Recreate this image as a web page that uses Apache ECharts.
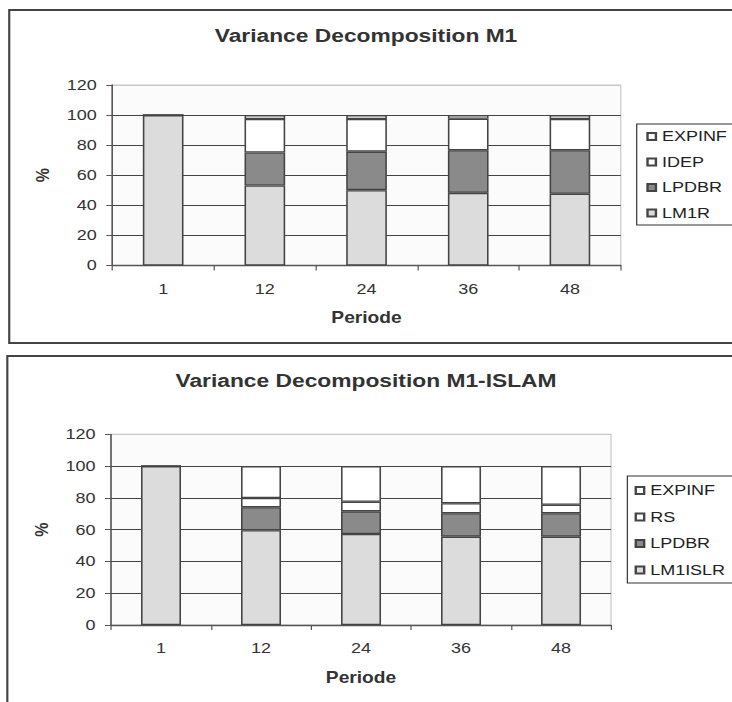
<!DOCTYPE html>
<html>
<head>
    <meta charset="utf-8">
    <title>Variance Decomposition</title>
    <script src="https://cdn.jsdelivr.net/npm/echarts@6/dist/echarts.min.js"></script>
    <style>
        html, body { margin: 0; padding: 0; overflow: hidden; background: #fff; }
        /* the original picture is stretched sideways, so draw narrow and widen it */
        #main { width: 610px; height: 702px; transform: scaleX(1.2); transform-origin: 0 0; }
    </style>
</head>
<body>
    <div id="main"></div>
    <script type="text/javascript">
        var periods = ['1', '12', '24', '36', '48'];
        var yTicks = [0, 120, 20]; // min, max, step

        // Variance Decomposition M1
        var m1LM1R = [100, 53.2, 50.1, 48.3, 47.7];
        var m1LPDBR = [0, 21.9, 25.6, 28.3, 28.9];
        var m1IDEP = [0, 22.3, 21.7, 21.0, 20.8];
        var m1EXPINF = [0, 2.6, 2.6, 2.4, 2.6];

        // Variance Decomposition M1-ISLAM
        var islLM1ISLR = [100, 59.6, 57.3, 55.6, 55.6];
        var islLPDBR = [0, 14.5, 14.2, 14.7, 14.7];
        var islRS = [0, 5.8, 6.1, 6.3, 5.4];
        var islEXPINF = [0, 20.1, 22.4, 23.4, 24.3];

        var font = 'Liberation Sans, Arial, sans-serif';
        var dark = '#444';
        var fills = { light: '#dcdcdc', mid: '#8a8a8a', white: '#ffffff' };

        var myChart = echarts.init(document.getElementById('main'), null, { renderer: 'svg' });

        function xAx(gi) {
            return {
                type: 'category', gridIndex: gi, data: periods,
                name: 'Periode', nameLocation: 'middle', nameGap: gi === 0 ? 44 : 45,
                nameTextStyle: { fontFamily: font, fontSize: 16, fontWeight: 'bold', color: '#333' },
                axisLine: { lineStyle: { color: '#555', width: 1.3 } },
                axisTick: { show: true, length: 5, alignWithLabel: false, lineStyle: { color: '#555' } },
                axisLabel: { fontFamily: font, fontSize: 15, color: '#333', margin: 16 },
                splitLine: { show: false }
            };
        }
        function yAx(gi) {
            return {
                type: 'value', gridIndex: gi, min: yTicks[0], max: yTicks[1], interval: yTicks[2],
                name: '%', nameLocation: 'middle', nameGap: 50,
                nameTextStyle: { fontFamily: font, fontSize: 16, fontWeight: 'bold', color: '#333' },
                axisLine: { show: true, lineStyle: { color: '#555', width: 1.3 } },
                axisTick: { show: true, length: 5, lineStyle: { color: '#555' } },
                axisLabel: { fontFamily: font, fontSize: 15, color: '#333', margin: 13 },
                splitLine: { show: true, lineStyle: { color: [dark, dark, dark, dark, dark, dark, '#c8c8c8'], width: 1 } }
            };
        }
        function bar(name, data, color, gi) {
            return {
                name: name, type: 'bar', stack: 's' + gi, data: data,
                xAxisIndex: gi, yAxisIndex: gi, barWidth: '40%',
                itemStyle: { color: color, borderColor: dark, borderWidth: 1.3 }
            };
        }
        function leg(names, left, top, gap, pad) {
            return {
                data: names, orient: 'vertical', left: left, top: top,
                icon: 'rect', itemWidth: 7, itemHeight: 7, itemGap: gap,
                padding: pad,
                textStyle: { fontFamily: font, fontSize: 15, color: '#222' }
            };
        }

        var option = {
            animation: false,
            title: [
                { text: 'Variance Decomposition M1', left: 'center', top: 26, padding: 0,
                  textStyle: { fontFamily: font, fontSize: 19, fontWeight: 'bold', color: '#333' } },
                { text: 'Variance Decomposition M1-ISLAM', left: 'center', top: 371, padding: 0,
                  textStyle: { fontFamily: font, fontSize: 19, fontWeight: 'bold', color: '#333' } }
            ],
            graphic: [
                // outer chart frames and legend frames run past the right edge of the picture
                { type: 'rect', shape: { x: 7.7, y: 10, width: 700, height: 333 },
                  style: { fill: null, stroke: dark, lineWidth: 1.8 } },
                { type: 'rect', shape: { x: 6.1, y: 356, width: 700, height: 500 },
                  style: { fill: null, stroke: dark, lineWidth: 1.8 } },
                { type: 'rect', shape: { x: 530.6, y: 124, width: 200, height: 101 },
                  style: { fill: null, stroke: '#333', lineWidth: 1 } },
                { type: 'rect', shape: { x: 522.8, y: 476, width: 200, height: 107 },
                  style: { fill: null, stroke: '#333', lineWidth: 1 } }
            ],
            legend: [
                leg(['EXPINF', 'IDEP', 'LPDBR', 'LM1R'], 530.6, 124, 10.5, [5, 10, 5, 8]),
                leg(['EXPINF', 'RS', 'LPDBR', 'LM1ISLR'], 522.8, 476, 11.5, [7, 10, 5, 6])
            ],
            grid: [
                { left: 93.6, top: 85, width: 423.7, height: 180.5, show: true,
                  backgroundColor: '#fbfbfb', borderColor: '#c8c8c8', borderWidth: 1 },
                { left: 92.5, top: 434.3, width: 416.7, height: 190.7, show: true,
                  backgroundColor: '#fbfbfb', borderColor: '#c8c8c8', borderWidth: 1 }
            ],
            xAxis: [xAx(0), xAx(1)],
            yAxis: [yAx(0), yAx(1)],
            series: [
                bar('LM1R', m1LM1R, fills.light, 0),
                bar('LPDBR', m1LPDBR, fills.mid, 0),
                bar('IDEP', m1IDEP, fills.white, 0),
                bar('EXPINF', m1EXPINF, fills.white, 0),
                bar('LM1ISLR', islLM1ISLR, fills.light, 1),
                bar('LPDBR', islLPDBR, fills.mid, 1),
                bar('RS', islRS, fills.white, 1),
                bar('EXPINF', islEXPINF, fills.white, 1)
            ]
        };
        myChart.setOption(option);
    </script>
</body>
</html>
